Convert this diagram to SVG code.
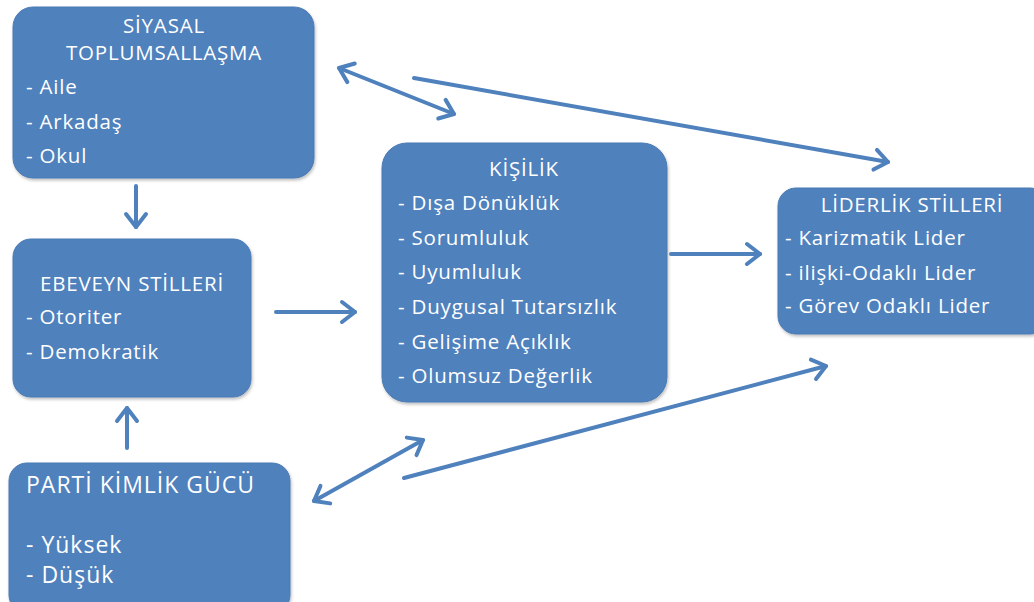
<svg xmlns="http://www.w3.org/2000/svg" width="1034" height="602" viewBox="0 0 1034 602">
<style>
.box{fill:#4f81bd;stroke:#4a7ab3;stroke-width:1}
.t{font-family:"Open Sans","Noto Sans","Liberation Sans",sans-serif;font-size:20.5px;letter-spacing:0.8px;fill:#ffffff}
.c{text-anchor:middle}
.big{font-size:23px;letter-spacing:1px}
.con line{stroke:#4f81bd;stroke-width:4;stroke-linecap:round;fill:none}
</style>
<defs>
<filter id="sh" x="-10%" y="-10%" width="120%" height="120%">
<feDropShadow dx="1" dy="2" stdDeviation="1.5" flood-color="#000" flood-opacity="0.25"/>
</filter>
<marker id="ah" markerUnits="userSpaceOnUse" markerWidth="30" markerHeight="30" viewBox="-20 -15 30 30" refX="0" refY="0" orient="auto-start-reverse" overflow="visible">
<path d="M-13,-10 L0,0 L-13,10" fill="none" stroke="#4f81bd" stroke-width="4" stroke-linecap="round" stroke-linejoin="round"/>
</marker>
</defs>
<rect width="1034" height="602" fill="#ffffff"/>

<g id="siyasal">
<rect class="box" x="13" y="7" width="301" height="171" rx="20" filter="url(#sh)"/>
<text class="t c" x="164" y="33">SİYASAL</text>
<text class="t c" x="164" y="60">TOPLUMSALLAŞMA</text>
<text class="t" x="26" y="94">- Aile</text>
<text class="t" x="26" y="129">- Arkadaş</text>
<text class="t" x="26" y="163">- Okul</text>
</g>

<g id="ebeveyn">
<rect class="box" x="13" y="239" width="238" height="158" rx="18" filter="url(#sh)"/>
<text class="t c" x="132" y="291">EBEVEYN STİLLERİ</text>
<text class="t" x="26" y="324">- Otoriter</text>
<text class="t" x="26" y="359">- Demokratik</text>
</g>

<g id="parti">
<rect class="box" x="9" y="463" width="281" height="150" rx="18" filter="url(#sh)"/>
<text class="t big" x="26" y="493">PARTİ KİMLİK GÜCÜ</text>
<text class="t big" x="26" y="553">- Yüksek</text>
<text class="t big" x="26" y="583">- Düşük</text>
</g>

<g id="kisilik">
<rect class="box" x="382" y="143" width="285" height="259" rx="25" filter="url(#sh)"/>
<text class="t c" x="524" y="176">KİŞİLİK</text>
<text class="t" x="398" y="210">- Dışa Dönüklük</text>
<text class="t" x="398" y="245">- Sorumluluk</text>
<text class="t" x="398" y="279">- Uyumluluk</text>
<text class="t" x="398" y="314">- Duygusal Tutarsızlık</text>
<text class="t" x="398" y="349">- Gelişime Açıklık</text>
<text class="t" x="398" y="383">- Olumsuz Değerlik</text>
</g>

<g id="liderlik">
<rect class="box" x="778" y="188" width="270" height="146" rx="18" filter="url(#sh)"/>
<text class="t c" x="912" y="212">LİDERLİK STİLLERİ</text>
<text class="t" x="785" y="245">- Karizmatik Lider</text>
<text class="t" x="785" y="280">- ilişki-Odaklı Lider</text>
<text class="t" x="785" y="313">- Görev Odaklı Lider</text>
</g>

<g id="connectors" class="con">
<line x1="136" y1="186" x2="136" y2="227" marker-end="url(#ah)"/>
<line x1="127" y1="448" x2="127" y2="408" marker-end="url(#ah)"/>
<line x1="276" y1="312" x2="355" y2="312" marker-end="url(#ah)"/>
<line x1="671" y1="254" x2="760" y2="254" marker-end="url(#ah)"/>
<line x1="339" y1="68" x2="454" y2="114" marker-start="url(#ah)" marker-end="url(#ah)"/>
<line x1="414" y1="78" x2="888" y2="162" marker-end="url(#ah)"/>
<line x1="314" y1="501" x2="423" y2="440" marker-start="url(#ah)" marker-end="url(#ah)"/>
<line x1="404" y1="478" x2="826" y2="366" marker-end="url(#ah)"/>
</g>
</svg>
